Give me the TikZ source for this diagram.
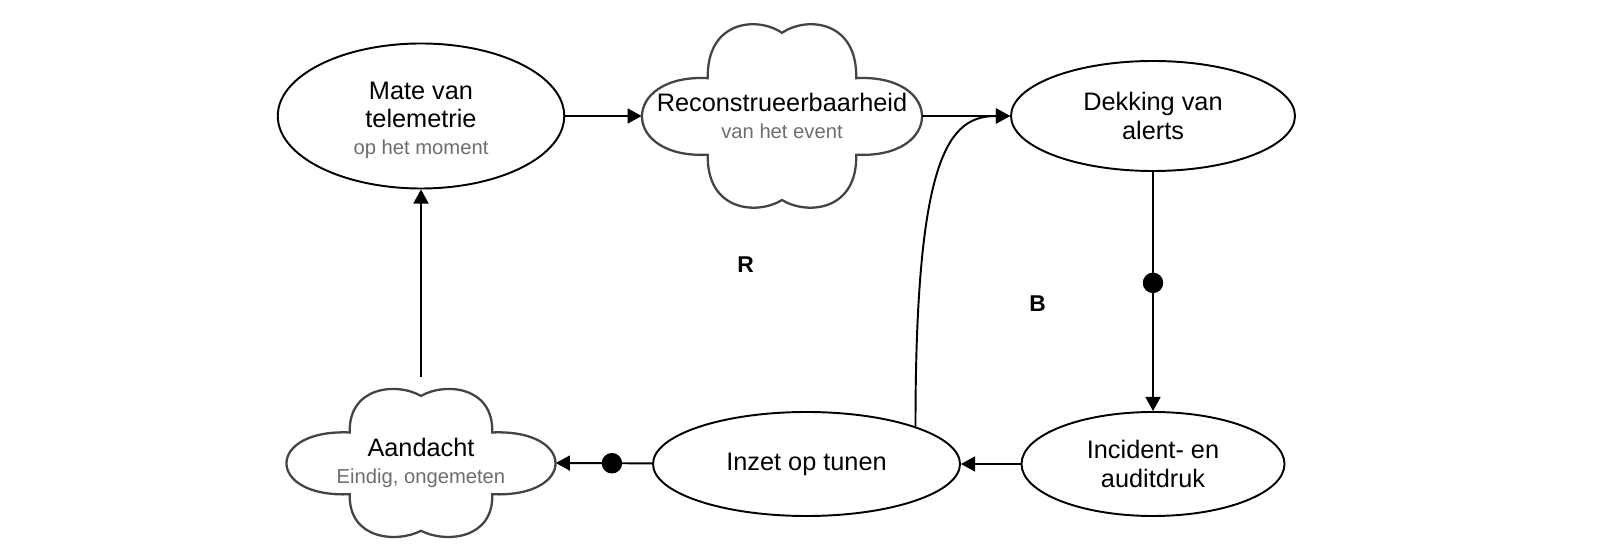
\documentclass[tikz,border=0pt]{standalone}
\usepackage{fontspec}
\setmainfont{Liberation Sans}
\usetikzlibrary{arrows.meta}
\definecolor{subgray}{RGB}{110,110,110}
\definecolor{cloudgray}{RGB}{68,68,68}
\newcommand{\subline}[1]{{\fontsize{11.5}{13}\selectfont\color{subgray}#1}}
\newcommand{\drawcloud}[4]{%
\draw[cloudline,shift={(#1,#2)},xscale=#3,yscale=#4]
 (-0.53,0.43) .. controls (-0.54,1.08) and (-0.18,1.14) .. (0,0.945)
 .. controls (0.18,1.14) and (0.54,1.08) .. (0.53,0.43)
 .. controls (1.157,0.48) and (1.157,-0.49) .. (0.53,-0.44)
 .. controls (0.54,-1.08) and (0.18,-1.13) .. (0,-0.955)
 .. controls (-0.18,-1.13) and (-0.54,-1.08) .. (-0.53,-0.44)
 .. controls (-1.157,-0.49) and (-1.157,0.48) .. (-0.53,0.43) -- cycle;}
\tikzset{
 factor/.style={ellipse,draw=black,line width=1.1pt,fill=white,inner sep=1pt,align=center,font=\fontsize{14.4}{16.2}\selectfont},
 cloudtext/.style={rectangle,draw=none,inner sep=0pt,align=center,font=\fontsize{14.4}{16.2}\selectfont},
 cloudline/.style={draw=cloudgray,line width=1.3pt,fill=white},
 link/.style={line width=1.1pt,-{Triangle[length=8pt,width=8.5pt]}},
 dotmark/.style={circle,fill=black,inner sep=0pt,minimum size=0.41cm},
 looplabel/.style={font=\fontsize{13}{15}\selectfont\bfseries}
}
\usetikzlibrary{shapes.geometric}
\begin{document}
\begin{tikzpicture}
\useasboundingbox (0,0) rectangle (32,11.2);
\drawcloud{15.64}{8.88}{2.8}{1.76}
\drawcloud{8.42}{1.94}{2.69}{1.42}
\node[factor,minimum width=5.73cm,minimum height=2.9cm] (mate) at (8.42,8.88) {\rule{0pt}{14.5pt}Mate van\\telemetrie\\[-1pt]\subline{op het moment}};
\node[cloudtext,minimum width=5.6cm,minimum height=3.52cm] (recon) at (15.64,8.88) {Reconstrueerbaarheid\\[-1pt]\subline{van het event}};
\node[factor,minimum width=5.68cm,minimum height=2.2cm] (dekking) at (23.06,8.88) {Dekking van\\alerts};
\node[factor,minimum width=5.26cm,minimum height=2.08cm] (incident) at (23.06,1.92) {Incident- en\\auditdruk};
\node[factor,minimum width=6.14cm,minimum height=2.08cm] (inzet) at (16.13,1.92) {Inzet op tunen};
\node[cloudtext,minimum width=5.38cm,minimum height=3.44cm] (aandacht) at (8.42,1.94) {Aandacht\\[-1pt]\subline{Eindig, ongemeten}};

\draw[link] (mate) -- (recon);
\draw[link] (recon) -- (dekking);
\draw[link] (dekking) -- node[dotmark,pos=0.464]{} (incident);
\draw[link] (incident) -- (inzet);
\draw[link] (inzet) -- node[dotmark,pos=0.417]{} (aandacht.east);
\draw[link] (aandacht.north) -- (mate);
\draw[link] (inzet.19) .. controls +(0,5.5) and +(-1.2,0) .. (dekking.west);

\node[looplabel] (loopR) at (14.91,5.91) {R};
\node[looplabel] (loopB) at (20.75,5.13) {B};
\end{tikzpicture}
\end{document}
